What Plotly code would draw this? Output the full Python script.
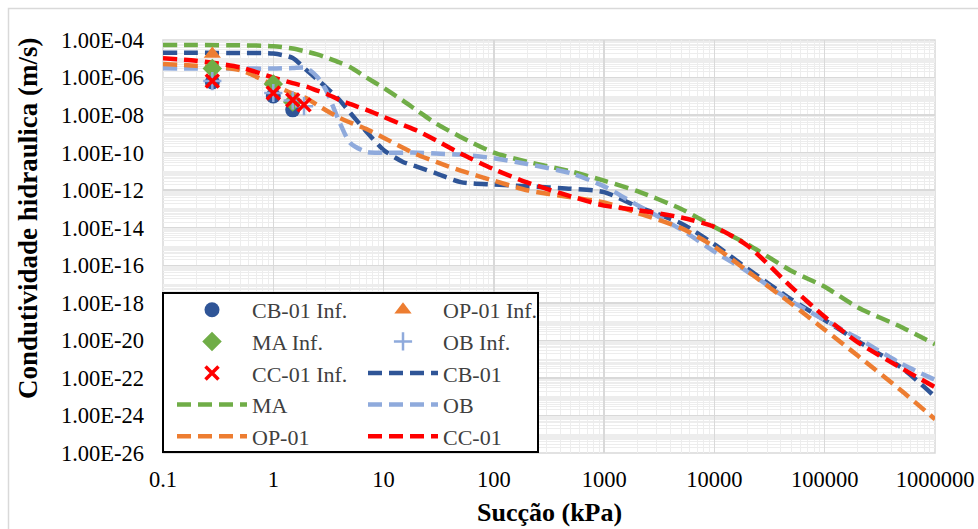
import plotly.graph_objects as go

# ---------------- data ----------------
suction = [0.1, 0.2, 0.5, 1, 1.5, 2, 2.5, 3, 4, 5, 7, 10, 15, 20, 30, 50, 100, 200,
           500, 1000, 2000, 5000, 10000, 20000, 50000, 100000, 200000, 500000, 1000000]

k_cb01 = [2.1e-5, 2.1e-5, 2.0e-5, 1.9e-5, 1.1e-5, 2.5e-6, 7.9e-7, 3.1e-7, 6.2e-8, 1.3e-8,
          1.3e-9, 1.4e-10, 3.2e-11, 1.8e-11, 7.9e-12, 2.7e-12, 2.0e-12, 1.6e-12, 1.2e-12,
          7.9e-13, 1.35e-13, 1.7e-14, 1.3e-15, 6.5e-17, 1.5e-18, 1.2e-19, 9.1e-21, 3.4e-22, 1.0e-23]
k_ma = [5.4e-5, 5.4e-5, 5.2e-5, 4.7e-5, 3.5e-5, 2.4e-5, 1.7e-5, 1.2e-5, 6.3e-6, 3.5e-6,
        1.0e-6, 2.8e-7, 5.9e-8, 1.8e-8, 3.5e-9, 6.9e-10, 1.0e-10, 3.3e-11, 1.0e-11, 3.2e-12,
        8.9e-13, 1.0e-13, 1.1e-14, 1.3e-15, 5.0e-17, 7.1e-18, 5.6e-19, 5.0e-20, 6.3e-21]
k_ob = [3.1e-6, 3.0e-6, 3.0e-6, 3.0e-6, 3.2e-6, 3.2e-6, 1.1e-6, 2.2e-7, 4.0e-9, 3.2e-10,
        1.1e-10, 1.0e-10, 1.0e-10, 1.0e-10, 8.9e-11, 7.9e-11, 5.0e-11, 2.5e-11, 7.9e-12, 1.6e-12,
        1.6e-13, 7.9e-15, 5.4e-16, 4.5e-17, 1.2e-18, 1.2e-19, 1.3e-20, 5.5e-22, 7.9e-23]
k_op01 = [5.2e-6, 4.2e-6, 2.5e-6, 4.0e-7, 1.4e-7, 7.9e-8, 3.5e-8, 1.8e-8, 7.1e-9, 4.0e-9,
          1.8e-9, 6.3e-10, 1.8e-10, 7.9e-11, 3.2e-11, 1.1e-11, 3.2e-12, 1.0e-12, 4.2e-13, 2.2e-13,
          6.2e-14, 9.5e-15, 9.8e-16, 4.8e-17, 8.9e-19, 3.7e-20, 1.5e-21, 2.0e-23, 6.3e-25]
k_cc01 = [1.05e-5, 7.9e-6, 3.5e-6, 1.0e-6, 5.0e-7, 3.3e-7, 2.0e-7, 1.4e-7, 6.3e-8, 3.8e-8,
          1.9e-8, 8.1e-9, 3.0e-9, 1.5e-9, 4.5e-10, 8.9e-11, 1.3e-11, 2.6e-12, 4.7e-13, 1.5e-13,
          8.7e-14, 3.5e-14, 1.1e-14, 1.1e-15, 6.8e-18, 1.8e-19, 7.8e-21, 3.2e-22, 3.2e-23]

# infiltration test points
inf_x_cb01 = [0.28, 1.0, 1.5]
inf_k_cb01 = [5.8e-7, 1.05e-7, 1.9e-8]
inf_x_op01 = [0.28]
inf_k_op01 = [1.8e-5]
inf_x_ma = [0.28, 1.0, 1.5]
inf_k_ma = [3.0e-6, 4.6e-7, 5.0e-8]
inf_x_ob = [0.28, 1.0, 1.5, 1.9]
inf_k_ob = [6.5e-7, 1.5e-7, 6.0e-8, 3.0e-8]
inf_x_cc01 = [0.28, 1.0, 1.5, 1.9]
inf_k_cc01 = [6.6e-7, 1.5e-7, 6.3e-8, 3.5e-8]

x_tickvals = [0.1, 1, 10, 100, 1000, 10000, 100000, 1000000]
x_ticktext = ["0.1", "1", "10", "100", "1000", "10000", "100000", "1000000"]
y_tickvals = [1e-4, 1e-6, 1e-8, 1e-10, 1e-12, 1e-14, 1e-16, 1e-18, 1e-20, 1e-22, 1e-24, 1e-26]
y_ticktext = ["1.00E-04", "1.00E-06", "1.00E-08", "1.00E-10", "1.00E-12", "1.00E-14",
              "1.00E-16", "1.00E-18", "1.00E-20", "1.00E-22", "1.00E-24", "1.00E-26"]

# ---------------- layout helpers ----------------
W, H = 978, 529
PL, PR, PT, PB = 163, 935, 40, 453


def fx(p):
    return (p - PL) / (PR - PL)


def fy(p):
    return (PB - p) / (PB - PT)


FONT = "Liberation Serif, Times New Roman, serif"
C_CB, C_OP, C_MA, C_OB, C_CC = "#2F5597", "#ED7D31", "#70AD47", "#8FAADC", "#FF0000"

fig = go.Figure()

line_series = [
    ("CB-01", k_cb01, C_CB, "legend2", 3),
    ("MA", k_ma, C_MA, "legend", 4),
    ("OB", k_ob, C_OB, "legend2", 4),
    ("OP-01", k_op01, C_OP, "legend", 5),
    ("CC-01", k_cc01, C_CC, "legend2", 5),
]
for name, ys, col, leg, rank in line_series:
    fig.add_trace(go.Scatter(
        x=suction, y=ys, mode="lines", name=name,
        line=dict(color=col, width=4.5, dash="14px,7px", shape="spline", smoothing=0.7),
        legend=leg, legendrank=rank))

fig.add_trace(go.Scatter(x=inf_x_cb01, y=inf_k_cb01, mode="markers", name="CB-01 Inf.",
                         marker=dict(symbol="circle", size=15, color=C_CB),
                         legend="legend", legendrank=1))
fig.add_trace(go.Scatter(x=inf_x_op01, y=inf_k_op01, mode="markers", name="OP-01 Inf.",
                         marker=dict(symbol="triangle-up", size=15, color=C_OP),
                         legend="legend2", legendrank=1))
fig.add_trace(go.Scatter(x=inf_x_ma, y=inf_k_ma, mode="markers", name="MA Inf.",
                         marker=dict(symbol="diamond", size=15, color=C_MA),
                         legend="legend", legendrank=2))
fig.add_trace(go.Scatter(x=inf_x_ob, y=inf_k_ob, mode="markers", name="OB Inf.",
                         marker=dict(symbol="cross-thin", size=13, color=C_OB,
                                     line=dict(color=C_OB, width=2.5)),
                         legend="legend2", legendrank=2))
fig.add_trace(go.Scatter(x=inf_x_cc01, y=inf_k_cc01, mode="markers", name="CC-01 Inf.",
                         marker=dict(symbol="x-thin", size=13, color=C_CC,
                                     line=dict(color=C_CC, width=3.5)),
                         legend="legend", legendrank=3))

legend_common = dict(xanchor="left", yanchor="top", bgcolor="rgba(0,0,0,0)",
                     font=dict(family=FONT, size=22, color="#404040"),
                     itemwidth=70, tracegroupgap=0, orientation="v")

fig.update_layout(
    width=W, height=H,
    margin=dict(l=PL, r=W - PR, t=PT, b=H - PB, autoexpand=False),
    paper_bgcolor="white", plot_bgcolor="white",
    showlegend=True,
    legend=dict(x=fx(172), y=fy(289), **legend_common),
    legend2=dict(x=fx(363), y=fy(289), **legend_common),
    xaxis=dict(type="log", range=[-1, 6], tickmode="array",
               tickvals=x_tickvals, ticktext=x_ticktext,
               showgrid=True, gridcolor="#D9D9D9", gridwidth=1.5,
               minor=dict(dtick="D1", showgrid=True, gridcolor="#EDEDED", gridwidth=1, ticks=""),
               ticks="", zeroline=False, showline=False, automargin=False,
               ticklabelstandoff=10,
               tickfont=dict(family=FONT, size=22.5, color="#000000")),
    yaxis=dict(type="log", range=[-26, -4], tickmode="array",
               tickvals=y_tickvals, ticktext=y_ticktext,
               showgrid=True, gridcolor="#D9D9D9", gridwidth=1.5,
               minor=dict(dtick="D1", showgrid=True, gridcolor="#EDEDED", gridwidth=1, ticks=""),
               ticks="", zeroline=False, showline=False, automargin=False,
               ticklabelstandoff=18,
               tickfont=dict(family=FONT, size=22.5, color="#000000")),
    shapes=[
        # plot-area frame
        dict(type="rect", xref="paper", yref="paper", x0=0, x1=1, y0=0, y1=1,
             line=dict(color="#D9D9D9", width=1.5), layer="below"),
        # legend box
        dict(type="rect", xref="paper", yref="paper", x0=fx(163), x1=fx(538),
             y0=fy(452), y1=fy(293), fillcolor="white",
             line=dict(color="black", width=2), layer="above"),
        # chart-area border
        dict(type="rect", xref="paper", yref="paper", x0=fx(8.5), x1=fx(990),
             y0=fy(540), y1=fy(8.5), line=dict(color="#D9D9D9", width=1.5), layer="below"),
    ],
    annotations=[
        dict(text="<b>Sucção (kPa)</b>", xref="paper", yref="paper", x=fx(549), y=fy(512),
             xanchor="center", yanchor="middle", showarrow=False,
             font=dict(family=FONT, size=26, color="#000000")),
        dict(text="<b>Condutividade hidraulica (m/s)</b>", xref="paper", yref="paper",
             x=fx(28), y=fy(218), xanchor="center", yanchor="middle", textangle=-90,
             showarrow=False, font=dict(family=FONT, size=27, color="#000000")),
    ],
)

fig.write_html("out.html",
               config={"displayModeBar": False, "staticPlot": True},
               post_script="document.body.style.margin='0';document.body.style.padding='0';"
                           "document.body.style.overflow='hidden';")
